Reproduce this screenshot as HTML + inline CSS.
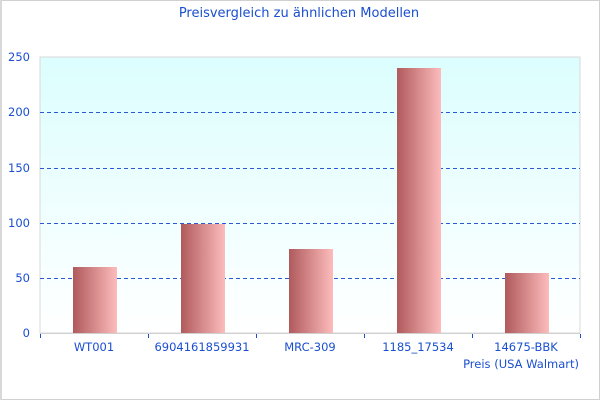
<!DOCTYPE html>
<html><head><meta charset="utf-8"><style>
html,body{margin:0;padding:0;background:#fff}
svg text{font-family:"DejaVu Sans",sans-serif;fill:#1a4fcf}
</style></head><body>
<svg width="600" height="400" xmlns="http://www.w3.org/2000/svg">
<defs>
<linearGradient id="bg" x1="0" y1="0" x2="0" y2="1"><stop offset="0" stop-color="#dcfefe"/><stop offset="1" stop-color="#ffffff"/></linearGradient>
<linearGradient id="bar" x1="0" y1="0" x2="1" y2="0"><stop offset="0" stop-color="#b05a5c"/><stop offset="1" stop-color="#fdbcbc"/></linearGradient>
</defs>
<rect x="0.5" y="0.5" width="599" height="399" fill="#fff" stroke="#d0d0d0"/>
<rect x="0" y="0" width="2" height="400" fill="#d8d8d8"/>
<text x="299" y="17" font-size="13" text-anchor="middle">Preisvergleich zu ähnlichen Modellen</text>
<rect x="40" y="57" width="540" height="276" fill="url(#bg)" stroke="#d8d8d8"/>
<g stroke="#2a5ad0" stroke-dasharray="4,3" stroke-width="1">
<line x1="40" y1="112.5" x2="580" y2="112.5"/><line x1="40" y1="168.5" x2="580" y2="168.5"/>
<line x1="40" y1="223.5" x2="580" y2="223.5"/><line x1="40" y1="278.5" x2="580" y2="278.5"/>
</g>
<g fill="url(#bar)">
<rect x="73" y="267" width="44" height="66"/>
<rect x="181" y="224" width="44" height="109"/>
<rect x="289" y="249" width="44" height="84"/>
<rect x="397" y="68" width="44" height="265"/>
<rect x="505" y="273" width="44" height="60"/>
</g>
<line x1="40" y1="333.5" x2="580" y2="333.5" stroke="#d0d0d0"/>
<g stroke="#1a4fcf"><line x1="40.5" y1="334" x2="40.5" y2="338"/><line x1="148.5" y1="334" x2="148.5" y2="338"/><line x1="256.5" y1="334" x2="256.5" y2="338"/><line x1="364.5" y1="334" x2="364.5" y2="338"/><line x1="472.5" y1="334" x2="472.5" y2="338"/><line x1="580.5" y1="334" x2="580.5" y2="338"/></g>
<g font-size="11.5" text-anchor="end">
<text x="30" y="61">250</text><text x="30" y="116">200</text><text x="30" y="172">150</text><text x="30" y="227">100</text><text x="30" y="282">50</text><text x="30" y="337">0</text>
</g>
<g font-size="11.5" text-anchor="middle">
<text x="94" y="351">WT001</text><text x="202" y="351">6904161859931</text><text x="310" y="351">MRC-309</text><text x="418" y="351">1185_17534</text><text x="526" y="351">14675-BBK</text>
</g>
<text x="579" y="368" font-size="11.5" text-anchor="end">Preis (USA Walmart)</text>
</svg>
</body></html>
